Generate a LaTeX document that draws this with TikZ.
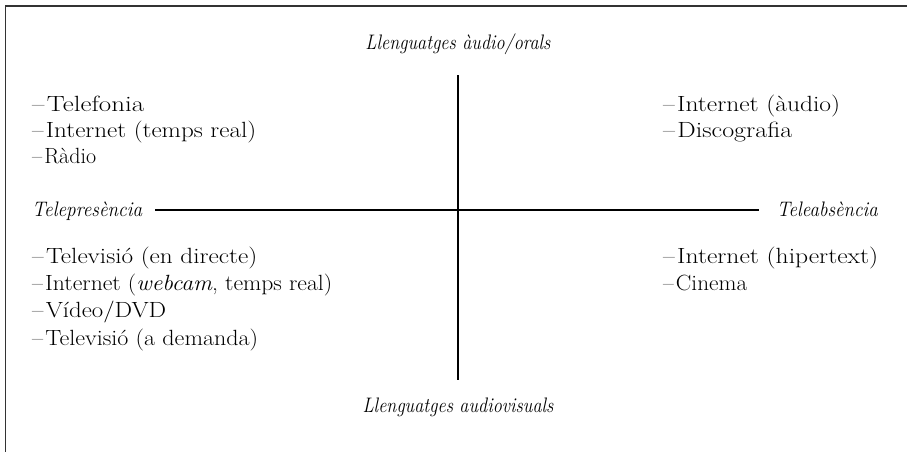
\documentclass[tikz,border=0pt]{standalone}
\usepackage{graphicx}
\newcommand{\fitw}[2]{\resizebox{#1}{\height}{#2}}
\newcommand{\itm}[1]{\textendash\kern2pt #1}
\tikzset{
  item/.style={anchor=base west, inner sep=0pt, font=\fontsize{22}{26}\selectfont},
  axlabel/.style={inner sep=0pt, font=\fontsize{21}{25}\selectfont\itshape},
  axis/.style={line width=1.1pt, black},
  frame/.style={line width=1.5pt, black!80}
}
\begin{document}
\begin{tikzpicture}[x=1pt,y=-1pt]
\useasboundingbox (0,0) rectangle (907,452);
% frame (top and left only)
\draw[frame] (5.5,452) -- (5.5,6) -- (907,6);
% axis labels
\node[axlabel, anchor=base] (top) at (458,50) {\fitw{185pt}{Llenguatges àudio/orals}};
\node[axlabel, anchor=base] (bot) at (458,412) {\fitw{191pt}{Llenguatges audiovisuals}};
\node[axlabel, anchor=base west] (left) at (32,216) {\fitw{110pt}{Telepresència}};
\node[axlabel, anchor=base east] (right) at (878,216) {\fitw{101pt}{Teleabsència}};
% axes
\coordinate (vt) at (458,75);
\coordinate (vb) at (458,380);
\coordinate (hl) at (155,210);
\coordinate (hr) at (759,210);
\draw[axis] (vt) -- (vb);
\draw[axis] (hl) -- (hr);
% upper left
\node[item] (ul1) at (32,111) {\fitw{112pt}{\itm{Telefonia}}};
\node[item] (ul2) at (32,137) {\fitw{224pt}{\itm{Internet (temps real)}}};
\node[item] (ul3) at (32,163) {\itm{Ràdio}};
% upper right
\node[item] (ur1) at (663,111) {\fitw{177pt}{\itm{Internet (àudio)}}};
\node[item] (ur2) at (663,137) {\fitw{129pt}{\itm{Discografia}}};
% lower left
\node[item] (ll1) at (32,263) {\fitw{225pt}{\itm{Televisió (en directe)}}};
\node[item] (ll2) at (32,290) {\fitw{300pt}{\itm{Internet (\textit{webcam}, temps real)}}};
\node[item] (ll3) at (32,317) {\fitw{134pt}{\itm{Vídeo/DVD}}};
\node[item] (ll4) at (32,345) {\fitw{226pt}{\itm{Televisió (a demanda)}}};
% lower right
\node[item] (lr1) at (663,263) {\fitw{215pt}{\itm{Internet (hipertext)}}};
\node[item] (lr2) at (663,290) {\fitw{84pt}{\itm{Cinema}}};
\end{tikzpicture}
\end{document}
